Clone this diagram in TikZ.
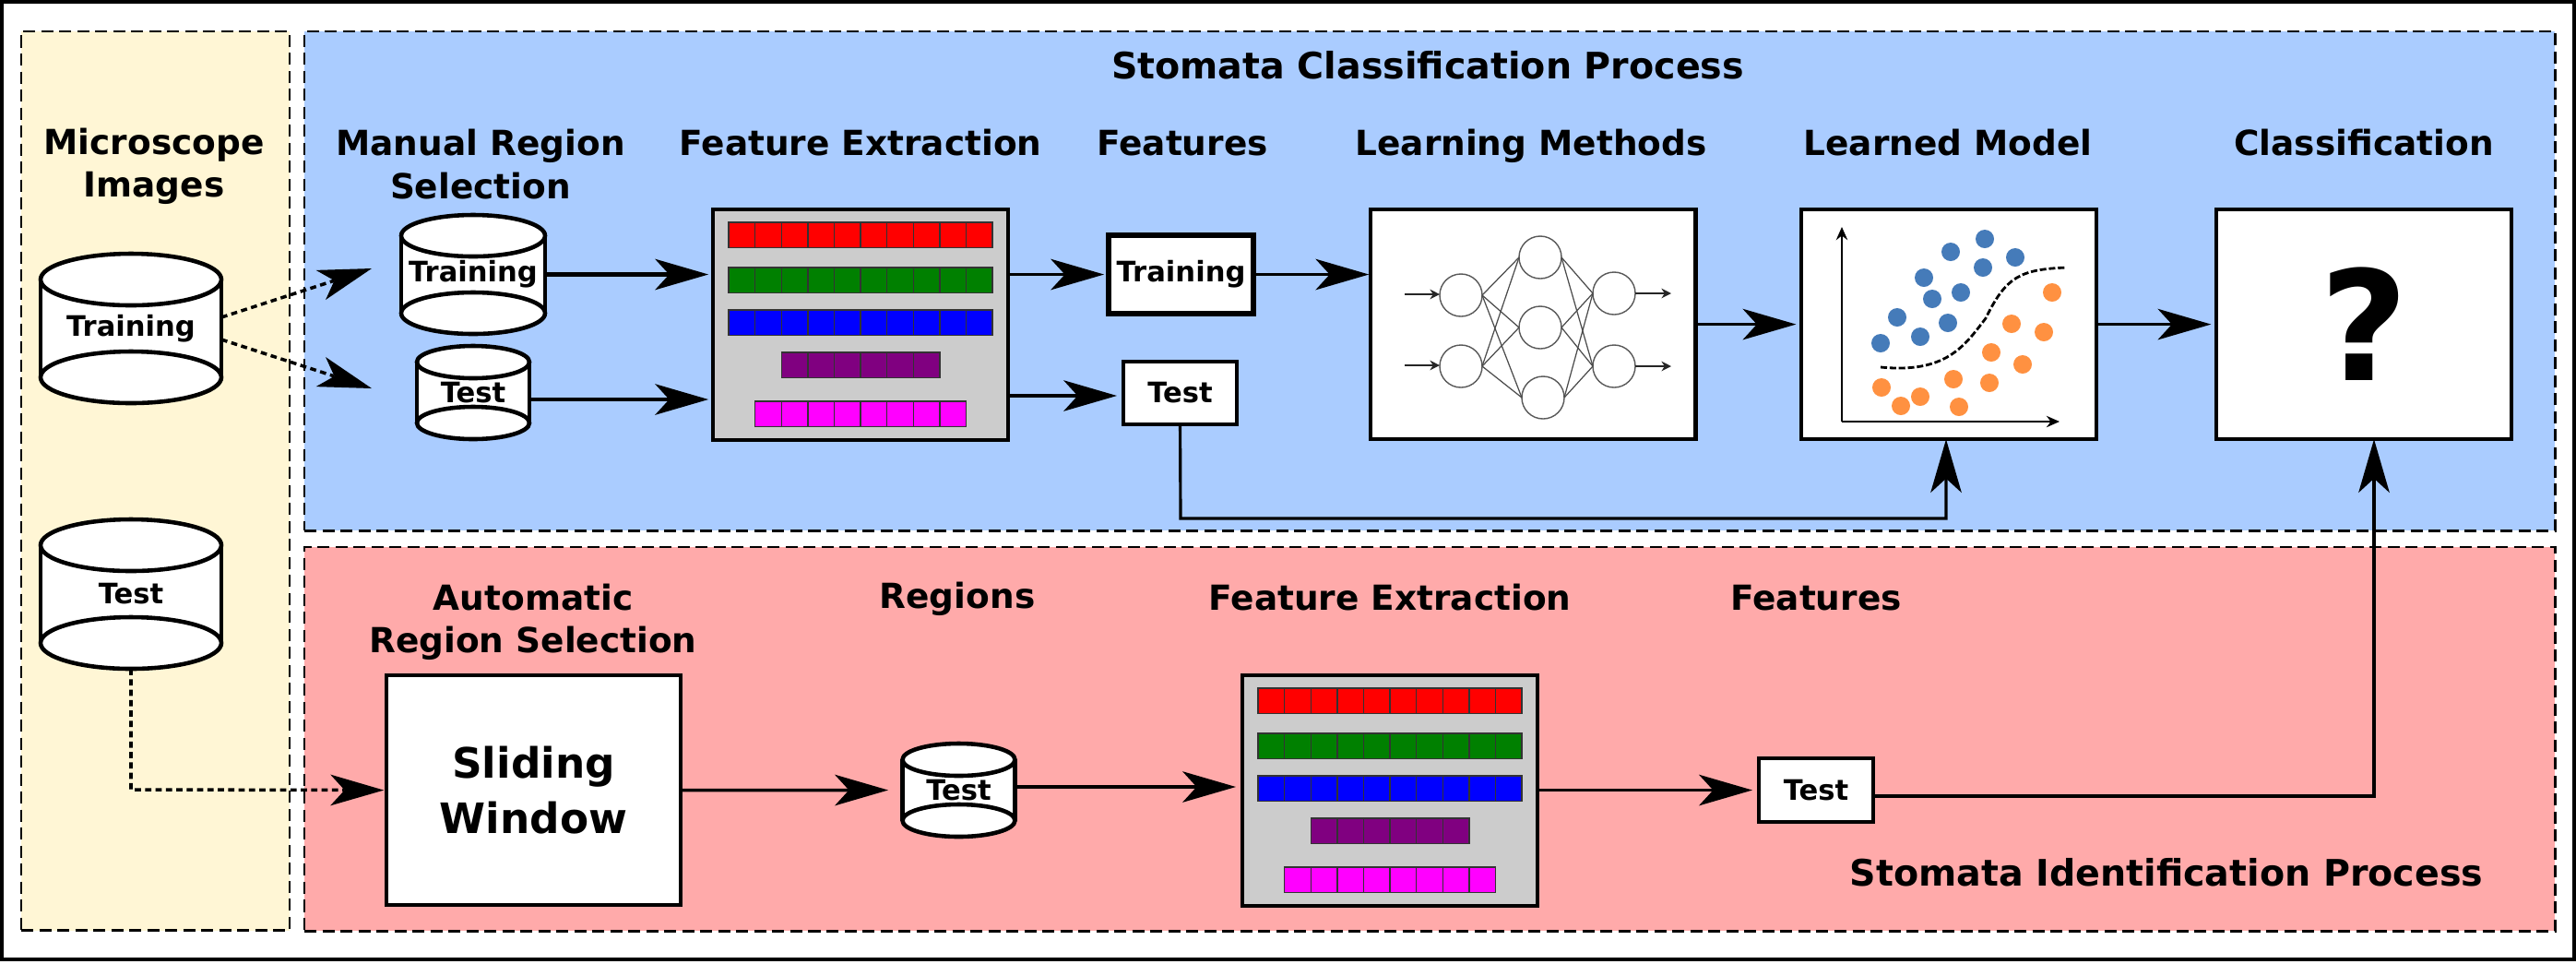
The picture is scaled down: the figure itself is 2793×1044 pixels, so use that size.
\documentclass[tikz,border=0pt]{standalone}
\usepackage{fontspec}
\setmainfont{DejaVu Sans}
\usepackage{xcolor}
\usetikzlibrary{arrows.meta}
\definecolor{panelY}{HTML}{FFF6D5}
\definecolor{panelB}{HTML}{AACCFF}
\definecolor{panelR}{HTML}{FFAAAA}
\definecolor{dotB}{HTML}{457BB9}
\definecolor{dotO}{HTML}{FF9141}
\definecolor{barR}{HTML}{FF0000}
\definecolor{barG}{HTML}{008000}
\definecolor{barB}{HTML}{0000FF}
\definecolor{barP}{HTML}{800080}
\definecolor{barM}{HTML}{FF00FF}
\tikzset{
  panel/.style={draw,line width=0.75pt,dash pattern=on 3.7pt off 1.85pt,inner sep=0pt,outer sep=0pt,anchor=north west},
  lbl/.style={font=\bfseries\fontsize{10.65}{13.1}\selectfont,align=center,inner sep=0pt},
  ttl/.style={font=\bfseries\fontsize{11.25}{13.5}\selectfont,inner sep=0pt},
  cantxt/.style={font=\bfseries\fontsize{8.7}{10}\selectfont,inner sep=0pt,outer sep=0pt},
  can/.style={draw,fill=white,line width=1.3pt},
  whitebox/.style={draw,fill=white,line width=1.3pt,inner sep=0pt,outer sep=0pt,anchor=north west},
  graybox/.style={whitebox,fill=black!20},
  arr/.style={line width=1pt,-{Stealth[length=16.5pt,width=9.6pt,inset=4.4pt,line width=0pt]}},
  dotarr/.style={arr,dash pattern=on 1.9pt off 1.3pt},
  cell/.style={draw=black!80,line width=0.4pt},
  neuron/.style={circle,draw=black!65,line width=0.4pt,minimum size=0.46cm,inner sep=0pt,outer sep=0pt},
  syn/.style={black!70,line width=0.35pt},
  nnio/.style={black!85,line width=0.55pt,-{Stealth[length=3pt,width=3pt]}},
  axis/.style={line width=0.8pt,-{Stealth[length=4pt,width=3.5pt]}}
}
\newcommand{\dbcyl}[7]{
  \fill[white] ({#2-#4},{#3-#5+#6}) rectangle ({#2+#4},{#3+#5-#6});
  \draw[line width=1.3pt] ({#2-#4},{#3-#5+#6}) -- ({#2-#4},{#3+#5-#6}) ({#2+#4},{#3-#5+#6}) -- ({#2+#4},{#3+#5-#6});
  \draw[can] (#2,{#3+#5-#6}) ellipse [x radius=#4,y radius=#6];
  \draw[can] (#2,{#3-#5+#6}) ellipse [x radius=#4,y radius=#6];
  \node[cantxt,minimum width={#4*0.02cm},minimum height={#5*0.02cm}] (#1) at (#2,#3) {#7};
}
\newcommand{\cellrow}[5]{\foreach \i in {1,...,#3} \draw[cell,fill=#4] ({#1+(\i-1)*28.6},#2) rectangle ++(28.6,#5);}
\newcommand{\featbars}[2]{
  \cellrow{#1+17}{#2+14}{10}{barR}{27.5}
  \cellrow{#1+17}{#2+63}{10}{barG}{27.5}
  \cellrow{#1+17}{#2+109}{10}{barB}{27.5}
  \cellrow{#1+74.2}{#2+155}{6}{barP}{27.5}
  \cellrow{#1+45.6}{#2+208}{8}{barM}{27.5}
}
\begin{document}
\begin{tikzpicture}[x=0.01cm,y=-0.01cm]
\useasboundingbox (0,0) rectangle (2793,1044);
\draw[line width=1.15pt] (2,2) rectangle (2791,1040);

\node[panel,fill=panelY,minimum width=2.91cm,minimum height=9.74cm] (imgPanel) at (23,34) {};
\node[panel,fill=panelB,minimum width=24.39cm,minimum height=5.41cm] (clsPanel) at (330,34) {};
\node[panel,fill=panelR,minimum width=24.39cm,minimum height=4.16cm] (idPanel) at (330,593) {};

\node[lbl] (lbMicro) at (167,180) {Microscope\\Images};
\node[ttl] (lbClsProc) at (1548,71) {Stomata Classification Process};
\node[lbl] (lbManual) at (521,178) {Manual Region\\Selection};
\node[lbl] (lbFeatA) at (933,155) {Feature Extraction};
\node[lbl] (lbFeatsA) at (1282,155) {Features};
\node[lbl] (lbLearn) at (1660,158) {Learning Methods};
\node[lbl] (lbModel) at (2112,155) {Learned Model};
\node[lbl] (lbClass) at (2563,155) {Classification};
\node[lbl] (lbAuto) at (578,674) {Automatic\\Region Selection};
\node[lbl] (lbRegions) at (1038,649) {Regions};
\node[lbl] (lbFeatB) at (1507,648) {Feature Extraction};
\node[lbl] (lbFeatsB) at (1969,648) {Features};
\node[ttl] (lbIdProc) at (2349,946) {Stomata Identification Process};

\dbcyl{imgTrain}{142}{356}{98}{81}{28}{Training}
\dbcyl{imgTest}{142}{644}{98}{81}{28}{Test}
\dbcyl{manTrain}{513}{297.5}{78}{64.5}{22.5}{Training}
\dbcyl{manTest}{513}{425.5}{61}{50.5}{17.5}{Test}
\dbcyl{regTest}{1039.5}{856.5}{61}{50.5}{17.5}{Test}

\node[graybox,minimum width=3.2cm,minimum height=2.5cm] (featA) at (773,227) {};
\featbars{773}{227}
\node[graybox,minimum width=3.2cm,minimum height=2.5cm] (featB) at (1347,732) {};
\featbars{1347}{732}

\node[whitebox,cantxt,line width=1.5pt,minimum width=1.57cm,minimum height=0.85cm] (fTrain) at (1202,255) {Training};
\node[whitebox,cantxt,minimum width=1.23cm,minimum height=0.68cm] (fTestA) at (1218,392) {Test};
\node[whitebox,cantxt,minimum width=1.24cm,minimum height=0.69cm] (fTestB) at (1907,822) {Test};

\node[whitebox,minimum width=3.52cm,minimum height=2.49cm] (nnBox) at (1486,227) {};
\node[whitebox,minimum width=3.2cm,minimum height=2.49cm] (modelBox) at (1953,227) {};
\node[whitebox,font=\bfseries\fontsize{47}{50}\selectfont,minimum width=3.2cm,minimum height=2.49cm] (classBox) at (2403,227) {?};
\node[whitebox,align=center,font=\bfseries\fontsize{12.9}{16.8}\selectfont,minimum width=3.19cm,minimum height=2.49cm] (slideBox) at (419,732) {Sliding\\Window};

\foreach \nm/\xx/\yy in {a1/1584/320,a2/1584/397,b1/1670/279,b2/1670/355,b3/1673/431,c1/1750/318,c2/1750/397}
  \node[neuron] (\nm) at (\xx,\yy) {};
\foreach \p in {a1,a2} \foreach \q in {b1,b2,b3} \draw[syn] (\p.east) -- (\q.west);
\foreach \p in {b1,b2,b3} \foreach \q in {c1,c2} \draw[syn] (\p.east) -- (\q.west);
\coordinate (inA) at (1523,319); \coordinate (inB) at (1523,396);
\coordinate (outA) at (1812,318); \coordinate (outB) at (1812,397);
\draw[nnio] (inA) -- (a1.west |- inA);
\draw[nnio] (inB) -- (a2.west |- inB);
\draw[nnio] (c1.east) -- (outA);
\draw[nnio] (c2.east) -- (outB);

\coordinate (orig) at (1997,457); \coordinate (tipY) at (1997,246); \coordinate (tipX) at (2233,457);
\draw[axis] (orig) -- (tipY);
\draw[axis] (orig) -- (tipX);
\foreach \xx/\yy in {2152/259,2115/273,2185/279,2150/290,2086/301,2126/317,2095/324,2057/344,2112/350,2082/365,2039/372}
  \fill[dotB] (\xx,\yy) circle [radius=10];
\foreach \xx/\yy in {2225/317,2181/351,2216/360,2159/382,2193/395,2118/411,2157/415,2040/420,2082/430,2061/440,2124/441}
  \fill[dotO] (\xx,\yy) circle [radius=10];
\draw[line width=0.8pt,dash pattern=on 2pt off 0.8pt] (2039,398) .. controls (2110,405) and (2130,375) .. (2153,345) .. controls (2175,300) and (2190,292) .. (2241,290);

\coordinate (tipA) at (403,291); \coordinate (tipB) at (403,421);
\draw[dotarr] (imgTrain.7.5) -- (tipA);
\draw[dotarr] (imgTrain.-7.5) -- (tipB);
\coordinate (bendA) at (142,856);
\draw[dotarr,shorten >=0.8pt] (imgTest.south) -- (bendA) -- (slideBox.west);

\draw[arr,line width=1.15pt,shorten >=1.4pt] (manTrain.east) -- (featA.west |- manTrain.east);
\coordinate (mt) at (574,433);
\draw[arr,line width=1.15pt,shorten >=1.4pt] (mt) -- (featA.west |- mt);
\draw[arr,shorten >=1.4pt] (featA.east |- fTrain.west) -- (fTrain.west);
\coordinate (fa) at (1093,429);
\draw[arr,shorten >=2pt] (fa) -- (fTestA.west |- fa);
\draw[arr,shorten >=0.5pt] (fTrain.east) -- (nnBox.west |- fTrain.east);
\draw[arr,shorten >=1.6pt] (nnBox.east) -- (modelBox.west);
\draw[arr,shorten >=1.6pt] (modelBox.east) -- (classBox.west);
\coordinate (bendB) at (1280,562); \coordinate (bendC) at (2110,562);
\draw[arr,line width=0.9pt] (fTestA.south) -- (bendB) -- (bendC) -- (modelBox.south -| bendC);

\coordinate (rgIn) at (963,856.5);
\draw[arr] (slideBox.east) -- (rgIn);
\coordinate (rt) at (1101,853);
\draw[arr,shorten >=2pt] (rt) -- (featB.west |- rt);
\draw[arr,shorten >=2pt] (featB.east |- fTestB.west) -- (fTestB.west);
\coordinate (fb) at (2031,863); \coordinate (bendD) at (2574,863);
\draw[arr,line width=0.9pt] (fb) -- (bendD) -- (classBox.south -| bendD);
\end{tikzpicture}
\end{document}
